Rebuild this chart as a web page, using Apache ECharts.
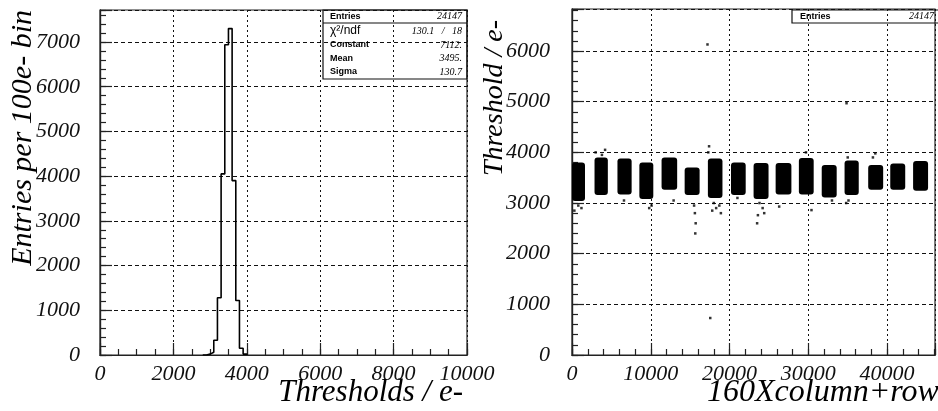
<!DOCTYPE html>
<html>
<head>
<meta charset="utf-8">
<script src="https://cdn.jsdelivr.net/npm/echarts@6/dist/echarts.min.js"></script>
<style>
html,body{margin:0;padding:0;background:#fff;}
#chart{width:938px;height:411px;}
</style>
</head>
<body>
<div id="chart"></div>
<script>
// ---------- DATA ----------
// Left panel: threshold histogram (100 e- bins), lower bin edges and entries
const histBinLow = [2800, 2900, 3000, 3100, 3200, 3300, 3400, 3500, 3600, 3700, 3800, 3900, 4000];
const histCounts = [0, 20, 60, 330, 1280, 4050, 6940, 7300, 3900, 1220, 150, 20, 0];

// Right panel: threshold vs pixel index; dense column groups (x range, y range)
const groupStart = [0, 2860, 5770, 8550, 11370, 14300, 17250, 20180, 23050, 25850, 28800, 31700, 34600, 37600, 40400, 43300];
const groupEnd   = [1650, 4550, 7570, 10320, 13350, 16200, 19100, 22050, 24950, 27850, 30680, 33600, 36400, 39500, 42300, 45200];
const groupLow   = [3040, 3160, 3170, 3080, 3260, 3160, 3100, 3160, 3080, 3170, 3170, 3110, 3160, 3260, 3260, 3240];
const groupHigh  = [3800, 3900, 3880, 3800, 3900, 3700, 3880, 3800, 3790, 3790, 3890, 3750, 3840, 3750, 3780, 3830];

// isolated pixels
const strayX = [17200, 34850, 17550, 15650, 15700, 15600, 15500, 23500, 23600, 24400, 24200, 23800, 17800, 18300, 18700, 18000, 18900, 300, 800, 1200, 3000, 3800, 4200, 38500, 38200, 17400, 17300, 9800, 10100, 34800, 35100, 26300, 30400, 12900, 6600, 21000, 33000, 29700, 35000];
const strayY = [6130, 4970, 730, 2400, 2600, 2800, 2950, 2600, 2760, 2800, 2900, 3000, 2850, 2900, 2950, 3000, 2800, 2850, 2950, 2900, 4000, 3950, 4050, 3980, 3900, 4120, 4000, 2900, 2950, 3000, 3050, 2930, 2860, 3050, 3050, 3100, 3050, 4000, 3900];

// Tick labels
const histXTicks = ['0', '2000', '4000', '6000', '8000', '10000'];
const histYTicks = ['0', '1000', '2000', '3000', '4000', '5000', '6000', '7000'];
const mapXTicks = ['0', '10000', '20000', '30000', '40000'];
const mapYTicks = ['0', '1000', '2000', '3000', '4000', '5000', '6000'];

// Statistics boxes
const statNames = ['Entries', 'χ²/ndf', 'Constant', 'Mean', 'Sigma'];
const statValues = ['24147', '130.1   /   18', '7112.', '3495.', '130.7'];
const mapStatNames = ['Entries'];
const mapStatValues = ['24147'];

// Titles
const histXTitle = 'Thresholds / e-';
const histYTitle = 'Entries per 100e- bin';
const mapXTitle = '160Xcolumn+row';
const mapYTitle = 'Threshold / e-';

// ---------- CHART ----------
const SERIF = '"Liberation Serif", "DejaVu Serif", serif';
const SANS = '"Liberation Sans", "DejaVu Sans", sans-serif';
const chart = echarts.init(document.getElementById('chart'), null, {renderer: 'canvas'});

function fmt(list) {
  return function (v) { const s = String(Math.round(v)); return list.indexOf(s) >= 0 ? s : ''; };
}
const labelStyle = {fontFamily: SERIF, fontStyle: 'italic', fontSize: 22, color: '#111'};

function majorAxis(gridIndex, min, max, interval, labels, margin, dash) {
  return {
    type: 'value', gridIndex, min, max, interval,
    axisLine: {show: true, onZero: false, lineStyle: {color: '#222', width: 1.2}},
    axisTick: {show: true, inside: true, length: 12, lineStyle: {color: '#222', width: 1.2}},
    minorTick: {show: false},
    splitLine: {show: true, lineStyle: {color: '#111', width: 1, type: dash}},
    axisLabel: Object.assign({show: true, margin, formatter: fmt(labels), showMaxLabel: true, hideOverlap: false}, labelStyle)
  };
}
function minorAxis(gridIndex, min, max, interval) {
  return {
    type: 'value', gridIndex, min, max, interval,
    axisLine: {show: true, onZero: false, lineStyle: {color: '#222', width: 1.2}},
    axisTick: {show: true, inside: true, length: 6, lineStyle: {color: '#222', width: 1.2}},
    splitLine: {show: false},
    axisLabel: {show: false}
  };
}

const leftGrid = {left: 100, top: 10, width: 367, height: 345, show: true, borderColor: '#222', borderWidth: 1.2, backgroundColor: 'transparent'};
const rightGrid = {left: 572, top: 9, width: 366, height: 346, show: true, borderColor: '#222', borderWidth: 1.2, backgroundColor: 'transparent'};

const xl = majorAxis(0, 0, 10000, 2000, histXTicks, 8, [2, 3]);
const xlm = minorAxis(0, 0, 10000, 500);
const xr = majorAxis(1, 0, 46080, 10000, mapXTicks, 8, [2, 3]);
const xrm = minorAxis(1, 0, 46080, 2000);
const yl = majorAxis(0, 0, 7716, 1000, histYTicks, 20, [4, 3]);
const ylm = minorAxis(0, 0, 7716, 200);
const yr = majorAxis(1, 0, 6830, 1000, mapYTicks, 22, [4, 3]);
const yrm = minorAxis(1, 0, 6830, 200);
[yl, ylm, yr, yrm].forEach(a => { a.position = 'left'; a.offset = 0; });
[xl, xlm, xr, xrm].forEach(a => { a.position = 'bottom'; a.offset = 0; });

const histData = histBinLow.map((x, i) => [x, histCounts[i]]);
const groupData = groupStart.map((x, i) => [x, groupEnd[i], groupLow[i], groupHigh[i]]);
const strayData = strayX.map((x, i) => [x, strayY[i]]);

// stat box graphics
const g = [];
g.push({type: 'rect', shape: {x: 323, y: 10, width: 144, height: 69}, style: {fill: 'rgba(0,0,0,0)', stroke: '#111', lineWidth: 1.2}, z: 100});
g.push({type: 'line', shape: {x1: 323, y1: 23, x2: 467, y2: 23}, style: {stroke: '#111', lineWidth: 1.2}, z: 100});
const rowY = [16.5, 31, 45, 58.5, 72];
statNames.forEach((n, i) => {
  g.push({type: 'text', x: 330, y: rowY[i], z: 101, style: {text: n, font: (i === 1 ? '12px ' : 'bold 9px ') + SANS, fill: '#000', align: 'left', verticalAlign: 'middle', textAlign: 'left', textVerticalAlign: 'middle'}});
  g.push({type: 'text', x: 462, y: rowY[i], z: 101, style: {text: statValues[i], font: 'italic 10px ' + SERIF, fill: '#000', align: 'right', verticalAlign: 'middle', textAlign: 'right', textVerticalAlign: 'middle'}});
});
g.push({type: 'rect', shape: {x: 792, y: 10, width: 150, height: 13}, style: {fill: 'rgba(0,0,0,0)', stroke: '#111', lineWidth: 1.2}, z: 100});
mapStatNames.forEach((n, i) => {
  g.push({type: 'text', x: 800, y: 16.5, z: 101, style: {text: n, font: 'bold 9px ' + SANS, fill: '#000', align: 'left', verticalAlign: 'middle', textAlign: 'left', textVerticalAlign: 'middle'}});
  g.push({type: 'text', x: 934, y: 16.5, z: 101, style: {text: mapStatValues[i], font: 'italic 10px ' + SERIF, fill: '#000', align: 'right', verticalAlign: 'middle', textAlign: 'right', textVerticalAlign: 'middle'}});
});
// axis titles
function title(text, x, y, rot, align, size) {
  const o = {type: 'text', x, y, z: 90, style: {text, font: 'italic ' + size + 'px ' + SERIF, fill: '#000', align, verticalAlign: 'middle', textAlign: align, textVerticalAlign: 'middle'}};
  if (rot) o.rotation = Math.PI / 2;
  return o;
}
g.push(title(histYTitle, 23, 10, true, 'right', 30));
g.push(title(mapYTitle, 495, 20, true, 'right', 28));
g.push(title(histXTitle, 463, 393, false, 'right', 31));
g.push(title(mapXTitle, 707, 393, false, 'left', 32));

chart.setOption({
  animation: false,
  backgroundColor: '#fff',
  grid: [leftGrid, rightGrid],
  xAxis: [xl, xlm, xr, xrm],
  yAxis: [yl, ylm, yr, yrm],
  series: [
    {
      type: 'line', xAxisIndex: 0, yAxisIndex: 0, step: 'end', data: histData,
      symbol: 'none', lineStyle: {color: '#000', width: 1.6}, z: 5
    },
    {
      type: 'custom', xAxisIndex: 2, yAxisIndex: 2, data: groupData, z: 5,
      renderItem: function (params, api) {
        const p0 = api.coord([api.value(0), api.value(3)]);
        const p1 = api.coord([api.value(1), api.value(2)]);
        return {type: 'rect', shape: {x: p0[0], y: p0[1], width: p1[0] - p0[0], height: p1[1] - p0[1], r: 3}, style: {fill: '#000'}};
      }
    },
    {
      type: 'scatter', xAxisIndex: 2, yAxisIndex: 2, data: strayData, symbol: 'rect', symbolSize: 2.5,
      itemStyle: {color: '#000'}, z: 5
    },
    {type: 'line', xAxisIndex: 1, yAxisIndex: 1, data: [], silent: true},
    {type: 'line', xAxisIndex: 3, yAxisIndex: 3, data: [], silent: true}
  ],
  graphic: g
});
</script>
</body>
</html>
